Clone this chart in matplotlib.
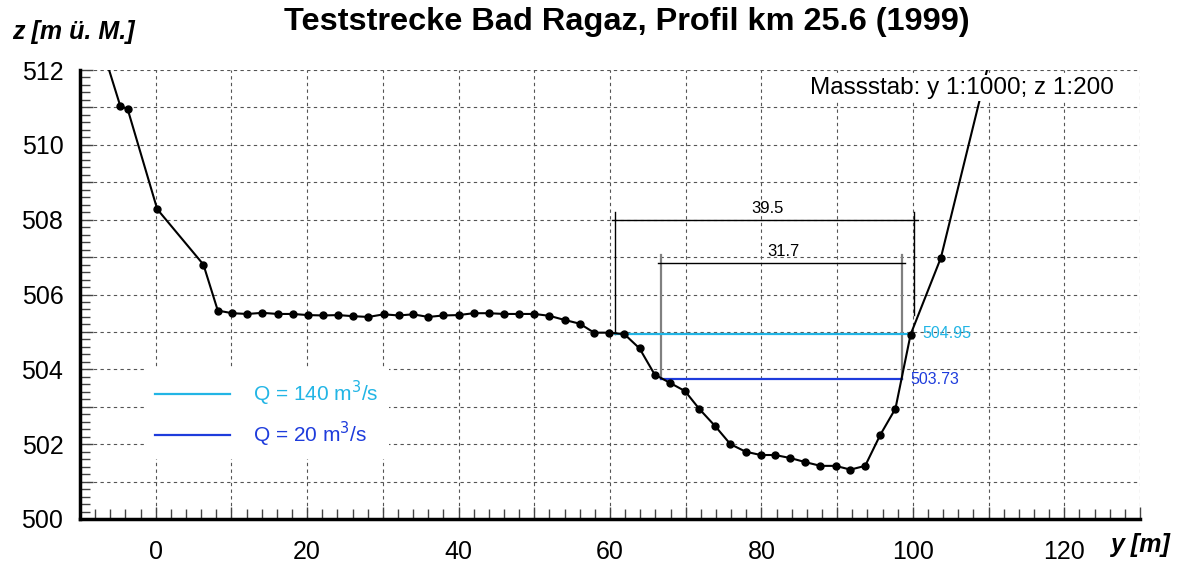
import matplotlib
matplotlib.use("Agg")
import matplotlib.pyplot as plt
import numpy as np

plt.rcParams['font.family'] = ['Liberation Sans', 'DejaVu Sans']

# cross section profile (y = distance [m], z = elevation [m ü. M.])
y_prof = [-8.0, -4.7, -3.7, 0.2, 6.3, 8.2, 10.1, 12.1, 14.1, 16.1, 18.1, 20.1,
          22.1, 24.1, 26.1, 28.1, 30.1, 32.1, 34.0, 36.0, 38.0, 40.0, 42.0,
          44.0, 46.0, 48.0, 50.0, 52.0, 54.0, 56.0, 57.9, 59.9, 61.9, 63.9,
          65.9, 67.9, 69.9, 71.8, 73.9, 75.9, 77.9, 79.9, 81.8, 83.8, 85.8,
          87.8, 89.8, 91.75, 93.7, 95.7, 97.7, 99.7, 103.7, 110.5]
z_prof = [513.2, 511.05, 510.95, 508.28, 506.8, 505.57, 505.5, 505.48, 505.51,
          505.48, 505.48, 505.45, 505.44, 505.45, 505.42, 505.40, 505.47,
          505.44, 505.47, 505.40, 505.44, 505.45, 505.50, 505.50, 505.48,
          505.48, 505.48, 505.43, 505.32, 505.22, 504.98, 504.98, 504.94,
          504.56, 503.86, 503.64, 503.42, 502.94, 502.48, 502.0, 501.8,
          501.71, 501.71, 501.63, 501.52, 501.42, 501.42, 501.32, 501.42,
          502.25, 502.95, 504.93, 506.98, 512.58]

# water levels
wl_labels = ['Q = 140 m$^3$/s', 'Q = 20 m$^3$/s']
wl_z = [504.95, 503.73]
wl_left = [60.7, 66.8]
wl_right = [99.7, 98.5]
wl_colors = ['#22b5e5', '#1e3cdc']

# width dimensions
dim_left = [60.7, 66.8]
dim_right = [100.2, 98.5]
dim_top = [508.2, 507.05]
dim_line = [508.0, 506.84]
dim_bottom_l = [504.95, 503.73]
dim_bottom_r = [505.45, 503.73]
dim_text = ['39.5', '31.7']

fig = plt.figure(figsize=(11.8, 5.66), dpi=100)
ax = fig.add_axes([80 / 1180, 1 - 519 / 566, 1060 / 1180, 449 / 566])

ax.set_xlim(-10, 130)
ax.set_ylim(500, 512)

# grid
ax.set_xticks(np.arange(-10, 131, 10))
ax.set_xticklabels([str(v) if v % 20 == 0 and 0 <= v <= 120 else '' for v in range(-10, 131, 10)])
ax.set_xticks(np.arange(-10, 131, 2), minor=True)
ax.set_yticks(np.arange(500, 513, 1))
ax.set_yticklabels([str(v) if v % 2 == 0 else '' for v in range(500, 513)])
ax.set_yticks(np.arange(500, 512.01, 0.2), minor=True)
ax.grid(True, which='major', linestyle=(0, (3, 3)), color='#555555', linewidth=0.8)
ax.set_axisbelow(True)
ax.tick_params(which='both', direction='in', color='#444444')
ax.tick_params(which='major', length=9, width=1, labelsize=18)
ax.tick_params(which='minor', length=7, width=1)
ax.tick_params(axis='x', which='major', pad=15)
ax.tick_params(axis='y', which='major', pad=12)
for s in ['top', 'right']:
    ax.spines[s].set_visible(False)
for s in ['left', 'bottom']:
    ax.spines[s].set_linewidth(2.5)

# profile
ax.plot(y_prof, z_prof, color='black', lw=1.5, marker='o', ms=5, zorder=5)

# dimension lines
for i in range(2):
    vcol = 'black' if i == 0 else '#808080'
    vlw = 1.0 if i == 0 else 1.6
    ax.plot([dim_left[i], dim_left[i]], [dim_bottom_l[i], dim_top[i]], color=vcol, lw=vlw, zorder=4)
    ax.plot([dim_right[i], dim_right[i]], [dim_bottom_r[i], dim_top[i]], color=vcol, lw=vlw, zorder=4)
    ax.plot([dim_left[i] - 0.5, dim_right[i] + 0.5], [dim_line[i], dim_line[i]], color='black', lw=1.0, zorder=4)
    ax.text((dim_left[i] + dim_right[i]) / 2 + 0.3, dim_line[i] + 0.1, dim_text[i],
            ha='center', va='bottom', fontsize=12)

# water levels
for i in range(2):
    ax.plot([wl_left[i], wl_right[i]], [wl_z[i], wl_z[i]], color=wl_colors[i], lw=1.6,
            zorder=4, label=wl_labels[i])
ax.text(wl_right[0] + 1.6, wl_z[0], f'{wl_z[0]:.2f}', color=wl_colors[0], fontsize=11.5,
        ha='left', va='center')
ax.text(wl_right[1] + 1.2, wl_z[1], f'{wl_z[1]:.2f}', color=wl_colors[1], fontsize=11.5,
        ha='left', va='center')

leg = ax.legend(loc='upper left', bbox_to_anchor=(0.061, 0.336), fontsize=15,
                frameon=True, fancybox=False, edgecolor='none', facecolor='white',
                framealpha=1, handlelength=3.6, handletextpad=1.1, labelspacing=0.56,
                borderpad=0.5, borderaxespad=0)
for t, c in zip(leg.get_texts(), wl_colors):
    t.set_color(c)
leg.set_zorder(3)

ax.text(126.6, 511.52, 'Massstab: y 1:1000; z 1:200', ha='right', va='center', fontsize=17.5,
        zorder=6, bbox=dict(facecolor='white', edgecolor='none', pad=1.5))

fig.text(0.531, 0.961, 'Teststrecke Bad Ragaz, Profil km 25.6 (1999)', ha='center', va='center',
         fontsize=23.4, fontweight='bold')
fig.text(12 / 1180, 1 - 32 / 566, 'z [m ü. M.]', ha='left', va='center', fontsize=18,
         fontweight='bold', fontstyle='italic')
fig.text(1170 / 1180, 1 - 545 / 566, 'y [m]', ha='right', va='center', fontsize=18,
         fontweight='bold', fontstyle='italic')

fig.savefig('out.png', dpi=100)
